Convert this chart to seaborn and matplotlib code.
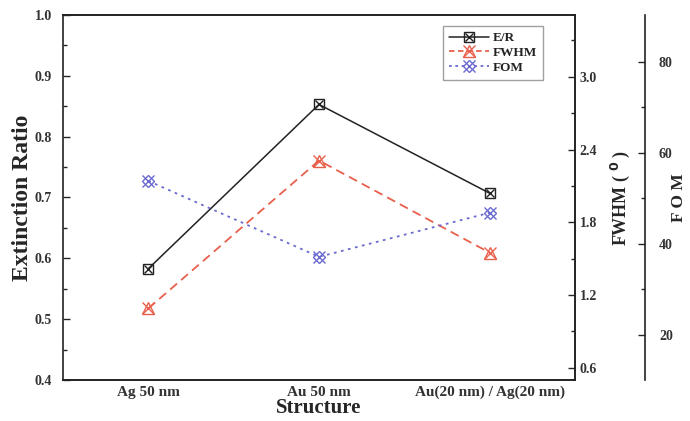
import matplotlib
matplotlib.use("Agg")
import matplotlib.pyplot as plt
import seaborn as sns
import pandas as pd
from matplotlib.ticker import MultipleLocator, FixedLocator
from matplotlib.lines import Line2D

structures = ["Ag 50 nm", "Au 50 nm", "Au(20 nm) / Ag(20 nm)"]
er_values = [0.583, 0.853, 0.707]
fwhm_values = [1.09, 2.31, 1.55]
fom_values = [53.8, 37.1, 46.8]

sns.set_theme(style="white")
plt.rcParams["font.family"] = ["Liberation Serif", "DejaVu Serif"]
plt.rcParams["font.weight"] = "bold"
plt.rcParams["axes.labelweight"] = "bold"

df = pd.DataFrame({"Structure": structures, "ER": er_values,
                   "FWHM": fwhm_values, "FOM": fom_values})

fig = plt.figure(figsize=(6.9, 4.21), dpi=100)
ax = fig.add_axes([63/690, 1-380/421, 512/690, 365/421])
ax2 = ax.twinx()
ax3 = ax.twinx()
ax3.spines["right"].set_position(("axes", (645-63)/512))

c_er = "#222222"
c_fwhm = "#e8604c"
c_fom = "#6a6ad0"
ms = 7

sns.lineplot(data=df, x="Structure", y="ER", ax=ax, color=c_er, sort=False,
             marker="s", markersize=ms, markerfacecolor="none",
             markeredgecolor=c_er, markeredgewidth=1.0, linewidth=1.1)
sns.lineplot(data=df, x="Structure", y="ER", ax=ax, color=c_er, sort=False,
             marker="x", markersize=ms-1, markeredgecolor=c_er,
             markeredgewidth=1.0, linewidth=0)
sns.lineplot(data=df, x="Structure", y="FWHM", ax=ax2, color=c_fwhm, sort=False,
             marker="^", markersize=ms+2, markerfacecolor="none",
             markeredgecolor=c_fwhm, markeredgewidth=1.0, linewidth=1.3,
             linestyle=(0, (5, 3)))
sns.lineplot(data=df, x="Structure", y="FWHM", ax=ax2, color=c_fwhm, sort=False,
             marker="x", markersize=ms+1, markeredgecolor=c_fwhm,
             markeredgewidth=1.0, linewidth=0)
sns.lineplot(data=df, x="Structure", y="FOM", ax=ax3, color=c_fom, sort=False,
             marker="D", markersize=ms-1, markerfacecolor="none",
             markeredgecolor=c_fom, markeredgewidth=1.0, linewidth=1.3,
             linestyle=(0, (1.5, 2.5)))
sns.lineplot(data=df, x="Structure", y="FOM", ax=ax3, color=c_fom, sort=False,
             marker="x", markersize=ms+1, markeredgecolor=c_fom,
             markeredgewidth=1.0, linewidth=0)

ax.set_xlim(-0.5, 2.5)
ax.set_ylim(0.4, 1.0)
ax2.set_ylim(0.5, 3.51)
ax3.set_ylim(10, 90.3)

ax.yaxis.set_major_locator(MultipleLocator(0.1))
ax.yaxis.set_minor_locator(MultipleLocator(0.05))
ax2.yaxis.set_major_locator(FixedLocator([0.6, 1.2, 1.8, 2.4, 3.0]))
ax2.yaxis.set_minor_locator(FixedLocator([0.9, 1.5, 2.1, 2.7, 3.3]))
ax3.yaxis.set_major_locator(FixedLocator([20, 40, 60, 80]))
ax3.yaxis.set_minor_locator(FixedLocator([30, 50, 70]))

ax.yaxis.set_major_formatter(matplotlib.ticker.FormatStrFormatter("%.1f"))
ax2.yaxis.set_major_formatter(matplotlib.ticker.FormatStrFormatter("%.1f"))

for a in (ax, ax2, ax3):
    a.tick_params(direction="in", width=1.0, labelsize=10, length=5)
    a.tick_params(which="minor", direction="in", width=1.0, length=3)
    for s in a.spines.values():
        s.set_linewidth(1.2)
        s.set_color("#222222")
    for lab in a.get_yticklabels() + a.get_xticklabels():
        lab.set_fontweight("bold")
        lab.set_color("#333333")

ax.tick_params(axis="x", which="major", length=5, pad=4, labelsize=11)
ax.tick_params(axis="y", which="minor", left=True)
ax.tick_params(axis="y", pad=8)
ax2.tick_params(axis="y", which="minor", right=True, pad=6)
ax2.tick_params(axis="y", which="both", right=True)
ax3.tick_params(axis="y", which="both", right=True)
ax3.tick_params(axis="y", which="major", pad=10)
ax3.spines["left"].set_visible(False)
ax3.spines["top"].set_visible(False)
ax3.spines["bottom"].set_visible(False)
ax2.spines["left"].set_visible(False)

ax.set_xlabel("Structure", fontsize=15, fontweight="bold", labelpad=-1)
ax.set_ylabel("Extinction Ratio", fontsize=17, fontweight="bold", labelpad=1)
ax2.set_ylabel("FWHM ( $\\mathbf{^{0}}$ )", fontsize=13, fontweight="bold", labelpad=8)
ax3.set_ylabel("F O M", fontsize=12.5, fontweight="bold", labelpad=-1)

h_er = (Line2D([], [], color=c_er, marker="s", markersize=ms, markerfacecolor="none", linewidth=1.1),
        Line2D([], [], color=c_er, marker="x", markersize=ms-1, linewidth=0))
h_fwhm = (Line2D([], [], color=c_fwhm, marker="^", markersize=ms+2, markerfacecolor="none",
                 linewidth=1.3, linestyle=(0, (3, 2))),
          Line2D([], [], color=c_fwhm, marker="x", markersize=ms+1, linewidth=0))
h_fom = (Line2D([], [], color=c_fom, marker="D", markersize=ms-1, markerfacecolor="none",
                linewidth=1.3, linestyle=(0, (1.5, 2))),
         Line2D([], [], color=c_fom, marker="x", markersize=ms+1, linewidth=0))
leg = ax3.legend([h_er, h_fwhm, h_fom], ["E/R", "FWHM", "FOM"],
                 loc="upper left", bbox_to_anchor=((443-63)/512, 1-(26-15)/365),
                 fontsize=9.5, frameon=True, fancybox=False, handlelength=3.0,
                 borderpad=0.45, labelspacing=0.2, handletextpad=0.3,
                 borderaxespad=0)
leg.get_frame().set_edgecolor("#888888")
leg.get_frame().set_linewidth(1.0)
for t in leg.get_texts():
    t.set_fontweight("bold")
    t.set_color("#222222")

fig.savefig("out.png", dpi=100, facecolor="white")
